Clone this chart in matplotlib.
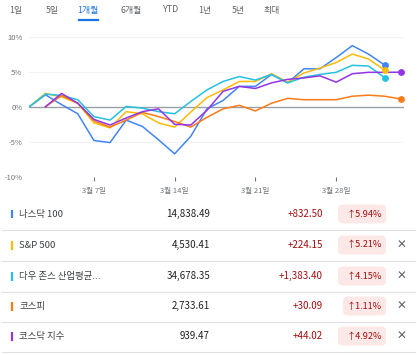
import numpy as np
import matplotlib.pyplot as plt
from matplotlib.patches import FancyBboxPatch

plt.rcParams['font.family'] = ['Noto Sans CJK KR', 'DejaVu Sans']

# 데이터 (% 변화, 거래일 순서)
nasdaq = [0, 1.7, 0.3, -1.0, -4.8, -5.1, -1.9, -2.8, -4.7, -6.7, -4.2, -0.3,
          0.9, 2.9, 2.9, 4.6, 3.4, 5.4, 5.4, 7.0, 8.7, 7.5, 5.94]
sp500 = [0, 1.9, 1.4, 0.5, -2.3, -3.0, -0.7, -1.0, -2.3, -2.9, -0.75, 1.3,
         2.4, 3.6, 3.6, 4.7, 3.5, 4.8, 5.5, 6.3, 7.5, 6.8, 5.21]
dow = [0, 1.8, 1.6, 1.0, -1.4, -1.9, 0.05, -0.2, -0.7, -1.0, 0.75, 2.4,
       3.6, 4.3, 3.8, 4.6, 3.4, 4.2, 4.6, 4.9, 5.9, 5.8, 4.15]
kospi = [0, 1.6, 0.5, -2.0, -2.9, -1.9, -0.8, -1.4, -2.1, -2.9, -1.5, -0.3,
         0.2, -0.6, 0.5, 1.2, 1.0, 1.0, 1.0, 1.5, 1.65, 1.5, 1.11]
kosdaq = [0, 1.9, 0.5, -1.8, -2.6, -1.6, -0.7, -0.3, -2.5, -2.6, -0.5, 2.2,
          2.9, 2.6, 3.4, 3.9, 4.1, 4.4, 3.5, 4.7, 4.9, 4.9, 4.92]

tick_idx = [4, 9, 14, 19]
tick_labels = ['3월 7일', '3월 14일', '3월 21일', '3월 28일']
tabs = ['1일', '5일', '1개월', '6개월', 'YTD', '1년', '5년', '최대']

names = ['나스닥 100', 'S&P 500', '다우 존스 산업평균...', '코스피', '코스닥 지수']
prices = ['14,838.49', '4,530.41', '34,678.35', '2,733.61', '939.47']
changes = ['+832.50', '+224.15', '+1,383.40', '+30.09', '+44.02']
pcts = ['5.94%', '5.21%', '4.15%', '1.11%', '4.92%']
colors = ['#4285f4', '#fbbc04', '#24c1e0', '#fa7b17', '#9334e6']

W, H = 417, 355
fig = plt.figure(figsize=(W / 100, H / 100), dpi=100, facecolor='white')


def fx(x):
    return x / W


def fy(y):
    return 1 - y / H


# 차트
ax = fig.add_axes([fx(29.3), fy(177), fx(404 - 29.3), fy(36.5) - fy(177)])
us_x = np.arange(len(nasdaq))
kr_x = np.arange(1, len(kospi) + 1)
series = [(us_x, nasdaq), (us_x, sp500), (us_x, dow), (kr_x, kospi), (kr_x, kosdaq)]
for (xs, ys), c in zip(series, colors):
    ax.plot(xs, ys, color=c, lw=1.1, zorder=3)
    ax.scatter(xs[-1], ys[-1], s=24, color=c, zorder=4, linewidths=0)

ax.set_xlim(0, 23.2)
ax.set_ylim(-10, 10)
for v in [-10, -5, 5, 10]:
    ax.axhline(v, color='#f1f3f4', lw=0.8, zorder=1)
ax.axhline(0, color='#9aa0a6', lw=1.0, zorder=2)
ax.set_yticks([-10, -5, 0, 5, 10])
ax.set_yticklabels(['-10%', '-5%', '0%', '5%', '10%'])
ax.set_xticks(tick_idx)
ax.set_xticklabels(tick_labels)
ax.tick_params(axis='y', length=0, pad=5, labelsize=5.5, labelcolor='#70757a')
ax.tick_params(axis='x', length=3, width=0.8, color='#70757a', pad=4,
               labelsize=5.5, labelcolor='#70757a')
for s in ax.spines.values():
    s.set_visible(False)
ax.set_facecolor('none')

# 탭
tab_x = [16, 52, 88, 131, 171, 205, 238, 272]
for t, x in zip(tabs, tab_x):
    c = '#1a73e8' if t == '1개월' else '#5f6368'
    fig.text(fx(x), fy(10), t, ha='center', va='center', fontsize=6.4, color=c)
fig.add_artist(plt.Line2D([fx(79), fx(98)], [fy(19.5), fy(19.5)],
                          color='#1a73e8', lw=1.6))

# 표
row_y = [214, 245, 276, 306, 336]
for i, y in enumerate(row_y):
    fig.add_artist(plt.Line2D([fx(12), fx(12)], [fy(y - 4.5), fy(y + 4.5)],
                              color=colors[i], lw=1.6, solid_capstyle='butt'))
    fig.text(fx(19), fy(y), names[i], ha='left', va='center', fontsize=6.8,
             color='#3c4043')
    fig.text(fx(210), fy(y), prices[i], ha='right', va='center', fontsize=7.0,
             color='#202124', fontweight='medium')
    fig.text(fx(323), fy(y), changes[i], ha='right', va='center', fontsize=7.0,
             color='#a50e0e')
    left = 343 if i == 3 else 338
    fig.add_artist(FancyBboxPatch((fx(left), fy(y + 9.5)), fx(386 - left),
                                  fy(y - 9.5) - fy(y + 9.5),
                                  boxstyle='round,pad=0,rounding_size=0.012',
                                  fc='#fce8e6', ec='none', transform=fig.transFigure))
    fig.text(fx(382), fy(y), '↑' + pcts[i], ha='right', va='center', fontsize=6.6,
             color='#a50e0e')
    if i > 0:
        fig.text(fx(401), fy(y), '✕', ha='center', va='center', fontsize=8.5,
                 color='#5f6368', family=['DejaVu Sans'])
    fig.add_artist(plt.Line2D([fx(2), fx(415)], [fy(y + 16), fy(y + 16)],
                              color='#e0e0e0', lw=0.8))

fig.savefig('out.png', dpi=100)
